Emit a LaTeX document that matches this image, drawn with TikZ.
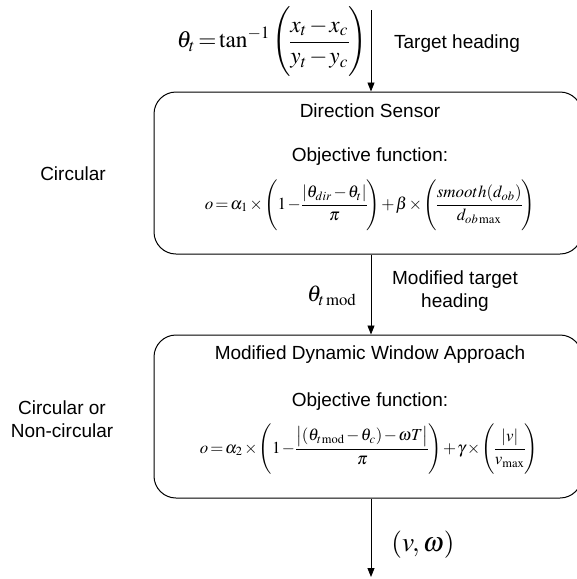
\documentclass[tikz,border=0pt]{standalone}
\usepackage{mathptmx}
\usepackage[no-math]{fontspec}
\setmainfont{Liberation Sans}
\usetikzlibrary{arrows.meta}
\tikzset{
  stagebox/.style={draw, line width=1pt, rounded corners=22pt, inner sep=0pt},
  flow/.style={draw, line width=0.9pt, -{Triangle[length=9pt,width=7pt]}},
  lbl/.style={inner sep=0pt, font=\fontsize{19}{22.5}\selectfont, align=center},
  eq/.style={inner sep=0pt}
}
% compact equation setting: tight operator spacing; #2 is the delimiter shortfall
\newcommand{\tighteq}[3]{\resizebox{#1}{!}{\thinmuskip=1mu\medmuskip=1.5mu\thickmuskip=2mu\delimitershortfall=#2\nulldelimiterspace=0pt$\displaystyle #3$}}
\begin{document}
\begin{tikzpicture}[x=1pt,y=-1pt]
\useasboundingbox (0,0) rectangle (577,579);
\clip (0,0) rectangle (577,579);

% processing stages
\node[stagebox, minimum width=428pt, minimum height=162pt] (ds) at (368,173) {};
\node[stagebox, minimum width=428pt, minimum height=163pt] (mdwa) at (368,416.5) {};

% arrow ends
\coordinate (src) at (371,10);
\coordinate (out) at (371,577);

\draw[flow] (src) -- (ds.north -| src);
\draw[flow] (ds.south -| src) -- (mdwa.north -| src);
\draw[flow] (mdwa.south -| src) -- (out);

% input heading
\node[eq] (thetat) at (272,42) {\tighteq{190pt}{-5pt}{\theta_t=\tan^{-1}\left(\frac{x_t-x_c}{y_t-y_c}\right)}};
\node[lbl] (tgt) at (457,44) {Target heading};

% direction sensor
\node[lbl] (dstitle) at (370,111) {Direction Sensor};
\node[lbl] (dsobj) at (370,157) {Objective function:};
\node[eq] (dsf) at (370,205) {\tighteq{330pt}{-1pt}{o=\alpha_1\times\left(1-\frac{\left|\theta_{dir}-\theta_t\right|}{\pi}\right)+\beta\times\left(\frac{smooth(d_{ob})}{d_{ob\,\max}}\right)}};
\node[lbl] (circ) at (73,174) {Circular};

% modified heading
\node[eq] (thetam) at (332,296) {\resizebox{50pt}{!}{$\theta_{t\,\mathrm{mod}}$}};
\node[lbl] (mth) at (455,291) {Modified target\\heading};

% modified dynamic window approach
\node[lbl] (mtitle) at (370,355) {Modified Dynamic Window Approach};
\node[lbl] (mobj) at (370,402) {Objective function:};
\node[eq] (mf) at (369,449) {\tighteq{338pt}{-1pt}{o=\alpha_2\times\left(1-\frac{\left|(\theta_{t\,\mathrm{mod}}-\theta_c)-\omega T\right|}{\pi}\right)+\gamma\times\left(\frac{\left|v\right|}{v_{\max}}\right)}};
\node[lbl] (cnc) at (62,419) {Circular or\\Non-circular};

% output command
\node[eq] (vw) at (423,545) {\resizebox{63pt}{!}{$(v,\omega)$}};
\end{tikzpicture}
\end{document}
